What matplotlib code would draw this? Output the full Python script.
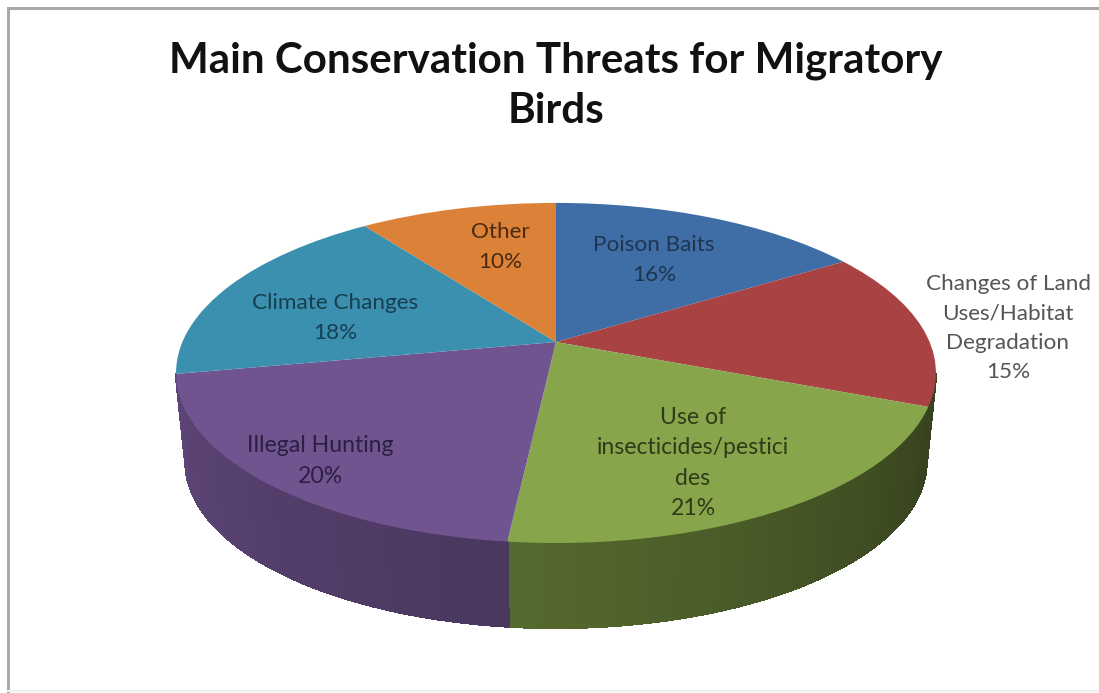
#import libraries
import numpy as np
import matplotlib
matplotlib.use("Agg")
import matplotlib.pyplot as plt
from matplotlib.transforms import Transform

#chart data
categories = ["Poison Baits", "Changes of Land\nUses/Habitat\nDegradation",
              "Use of\ninsecticides/pestici\ndes", "Illegal Hunting",
              "Climate Changes", "Other"]
shares = [16, 15, 20.7, 20.3, 18, 10]
title_text = "Main Conservation Threats for Migratory\nBirds"

#colours
top_colors = ["#3F6DA6", "#A94343", "#87A64C", "#70548F", "#3A90AE", "#DC8138"]
wall_left = ["#2A4870", "#37431E", "#566B2E", "#5E4678", "#26607A", "#94562A"]
wall_right = ["#2A4870", "#37431E", "#37431E", "#4A3860", "#26607A", "#94562A"]
label_colors = ["#1F3650", "#555555", "#2E3B18", "#2C1F42", "#173F50", "#4A2A10"]
label_pos = [(654, 260), (1008, 328), (693, 463), (320, 461), (335, 318), (500, 247)]
label_size = [16.2, 16.2, 16.6, 16.6, 16.2, 16.2]

#pie position in pixels
CX, CY = 556, 342
KX, KY, C = 373.6, 164.4, 0.182
WALL_SCALE, WALL_DEPTH = 0.975, 90


def project(x, y):
    den = 1 + C * y
    return CX + KX * x / den, CY - KY * y / den


class Perspective(Transform):
    input_dims = output_dims = 2

    def transform_non_affine(self, values):
        values = np.asarray(values)
        px, py = project(values[:, 0], values[:, 1])
        return np.column_stack([px, py])


fig = plt.figure(figsize=(10.99, 6.93), dpi=100)
ax = fig.add_axes([0, 0, 1, 1])
plt.rcParams["font.family"] = ["Lato", "DejaVu Sans"]

#side wall, only the part below the silhouette of the top
edges = np.deg2rad(np.cumsum([0] + shares) * 3.6)
for i in range(len(shares)):
    a = np.linspace(edges[i], edges[i + 1], 40)
    a = a[np.cos(a) < -C]
    if len(a) < 2:
        continue
    xt, yt = project(np.sin(a), np.cos(a))
    xb = CX + (xt - CX) * WALL_SCALE
    yb = CY + (yt - CY) * WALL_SCALE + WALL_DEPTH
    c1 = np.array(matplotlib.colors.to_rgb(wall_left[i]))
    c2 = np.array(matplotlib.colors.to_rgb(wall_right[i]))
    order = np.argsort(xt)
    rank = np.argsort(order) / (len(a) - 1)
    for j in range(len(a) - 1):
        col = c1 + (c2 - c1) * rank[j]
        ax.fill([xt[j], xt[j + 1], xb[j + 1], xb[j]],
                [yt[j], yt[j + 1], yb[j + 1], yb[j]],
                color=col, lw=1.0, antialiased=False, zorder=1)

#top of the pie
wedges, _ = ax.pie(shares, colors=top_colors, startangle=90, counterclock=False,
                   radius=1, center=(0, 0), frame=True)
persp = Perspective() + ax.transData
for w in wedges:
    w.set_transform(persp)
    w.set_zorder(2)
    w.set_clip_on(False)

ax.set_aspect("auto")
ax.set_xlim(0, 1099)
ax.set_ylim(693, 0)
ax.axis("off")

#frame of the pasted picture
ax.plot([8, 8, 1099], [693, 8, 8], color="#A9A9A9", lw=2.2, zorder=1, solid_joinstyle="miter")
ax.plot([8, 1099], [690.5, 690.5], color="#F0F0F0", lw=1.5, zorder=1)

#title
ax.text(556, 86, title_text, ha="center", va="center", fontsize=30.3, fontweight="bold",
        color="#111111", linespacing=1.38, zorder=5)

#data labels
for name, val, pos, col, size in zip(categories, shares, label_pos, label_colors, label_size):
    ax.text(pos[0], pos[1], f"{name}\n{round(val)}%", ha="center", va="center", fontsize=size,
            color=col, linespacing=1.58 * 16.2 / size, zorder=5)

fig.savefig("out.png", dpi=100)
